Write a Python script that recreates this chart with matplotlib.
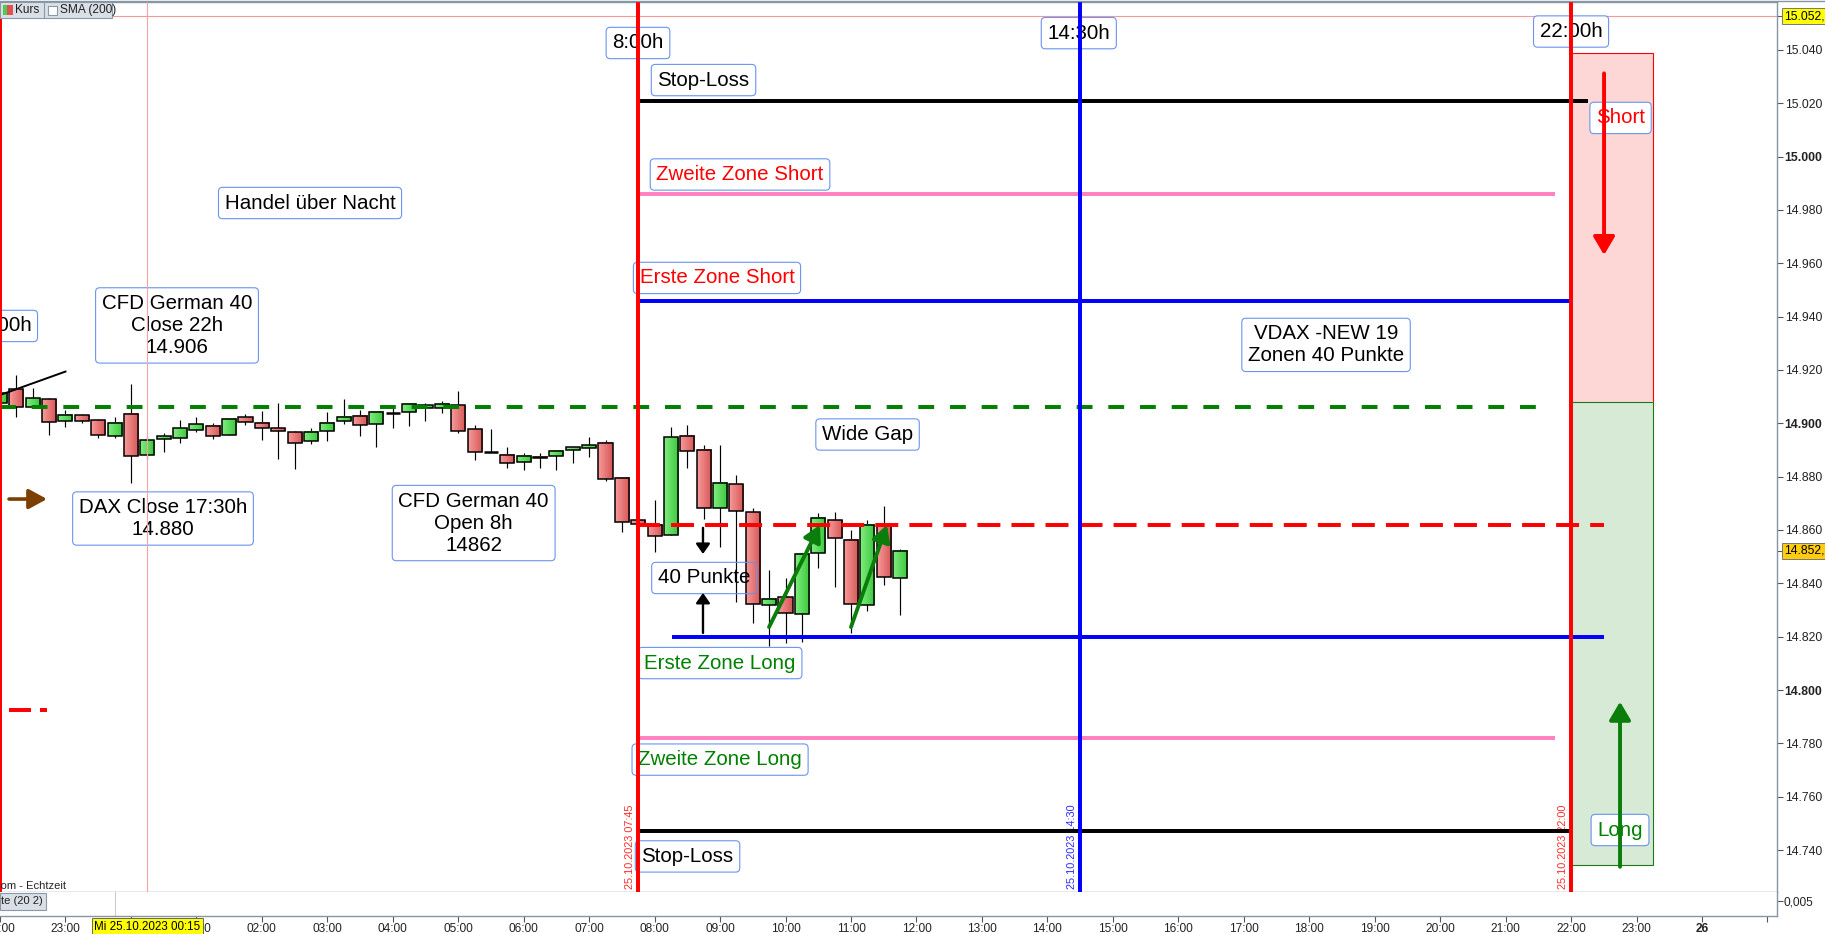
import matplotlib
matplotlib.use('Agg')
import matplotlib.pyplot as plt
from matplotlib.patches import Rectangle
from matplotlib.lines import Line2D
from matplotlib.colors import LinearSegmentedColormap
import numpy as np

plt.rcParams['font.family'] = ['Liberation Sans', 'DejaVu Sans']

# ---------------- data ----------------
# 15-minute candles; time axis in hours relative to 25.10.2023 00:00
first_bar = -2.0          # 24.10.2023 22:00
bar_minutes = 15
opens = [14907.5, 14912.7, 14906.2, 14909.0, 14900.7, 14903.0, 14901.1, 14895.1,
         14903.5, 14888.0, 14894.2, 14894.4, 14897.4, 14898.9, 14895.5, 14902.2,
         14900.0, 14898.1, 14896.6, 14893.2, 14897.0, 14900.7, 14902.6, 14899.6,
         14903.8, 14904.1, 14905.6, 14905.6, 14906.7, 14897.7, 14889.4, 14888.2,
         14885.4, 14887.5, 14887.6, 14889.9, 14890.6, 14892.5, 14879.4, 14863.6,
         14861.9, 14858.0, 14895.2, 14889.9, 14868.1, 14877.1, 14866.6, 14831.9,
         14834.7, 14828.4, 14851.2, 14863.6, 14856.1, 14831.7, 14861.8, 14841.9]
highs = [14912.0, 14918.1, 14913.1, 14909.4, 14905.0, 14903.5, 14901.5, 14902.2,
         14914.7, 14895.2, 14896.2, 14901.2, 14902.2, 14900.2, 14901.5, 14903.5,
         14904.6, 14907.7, 14897.1, 14898.1, 14904.3, 14909.0, 14905.0, 14904.6,
         14905.6, 14907.7, 14907.5, 14908.4, 14912.1, 14899.2, 14897.7, 14891.0,
         14889.0, 14889.0, 14890.0, 14891.0, 14894.7, 14893.7, 14879.4, 14863.6,
         14871.2, 14898.5, 14899.4, 14891.7, 14891.7, 14880.6, 14868.1, 14845.0,
         14842.0, 14850.9, 14866.2, 14866.6, 14860.0, 14863.7, 14869.1, 14852.8]
lows = [14906.0, 14902.5, 14906.0, 14895.6, 14898.7, 14900.2, 14894.6, 14894.6,
        14877.5, 14886.7, 14889.4, 14892.5, 14896.9, 14894.2, 14895.5, 14899.2,
        14893.7, 14886.5, 14883.0, 14892.1, 14893.2, 14899.6, 14895.4, 14891.0,
        14898.1, 14899.1, 14901.0, 14904.0, 14896.5, 14886.1, 14889.4, 14883.1,
        14882.4, 14883.1, 14882.4, 14885.0, 14887.5, 14878.5, 14859.4, 14862.2,
        14851.9, 14858.0, 14883.4, 14864.0, 14853.7, 14832.9, 14825.0, 14816.5,
        14817.7, 14818.0, 14845.6, 14838.7, 14821.4, 14829.7, 14839.4, 14828.1]
closes = [14911.2, 14906.2, 14909.4, 14900.4, 14903.0, 14901.0, 14895.5, 14900.0,
          14887.6, 14893.6, 14895.1, 14898.1, 14899.6, 14895.1, 14901.5, 14900.4,
          14898.1, 14897.0, 14892.5, 14896.6, 14900.0, 14902.2, 14899.2, 14904.1,
          14903.8, 14907.1, 14906.7, 14907.1, 14897.0, 14889.1, 14889.4, 14885.0,
          14887.9, 14886.9, 14889.5, 14891.0, 14891.7, 14879.0, 14862.9, 14862.2,
          14857.6, 14894.7, 14889.5, 14868.1, 14877.5, 14867.0, 14832.2, 14834.2,
          14828.9, 14850.9, 14864.4, 14856.9, 14832.1, 14861.7, 14842.3, 14852.2]

# price levels of the drawn zones
stop_loss_high = 15021
zone2_short = 14986
zone1_short = 14946
cfd_close_22h = 14906
cfd_open_8h = 14862
zone1_long = 14820
zone2_long = 14782
stop_loss_low = 14747
short_zone = (14907.5, 15039.0)
long_zone = (14734.4, 14908.0)
session_high = 15052.6
last_price = 14852.2

# vertical time markers (hours)
marker_prev_close = -2.0
marker_cursor = 0.25
marker_open = 7.75
marker_us = 14.5
marker_close = 22.0

y_ticks = [14740, 14760, 14780, 14800, 14820, 14840, 14860, 14880, 14900,
           14920, 14940, 14960, 14980, 15000, 15020, 15040]
x_hours = list(range(-2, 26))
x_labels = ['22:00', '23:00', '00:00', '01:00', '02:00', '03:00', '04:00', '05:00',
            '06:00', '07:00', '08:00', '09:00', '10:00', '11:00', '12:00', '13:00',
            '14:00', '15:00', '16:00', '17:00', '18:00', '19:00', '20:00', '21:00',
            '22:00', '23:00', '26', '']

# ---------------- figure ----------------
W, H = 1825, 934
fig = plt.figure(figsize=(W / 100, H / 100), dpi=100)


def fx(px):
    return px / W


def fy(py):
    return 1 - py / H


ax = fig.add_axes([0, fy(892), fx(1777), (892 - 2) / H])
sub = fig.add_axes([0, fy(916), fx(1777), 24 / H])

X0, X1 = -2.0, 25.146
Y0, Y1 = 14724.26, 15057.97

RED = '#ff0000'
GREEN = '#008000'
BLUE = '#0000ff'
PINK = '#ff82c0'
BOXEC = '#6b94ee'
LW = 2.85

# shaded short / long zones
ax.add_patch(Rectangle((22.0, short_zone[0]), 1.25, short_zone[1] - short_zone[0],
                       fc='#fdd6d6', ec='#ff0000', lw=0.8, zorder=1))
ax.add_patch(Rectangle((22.0, long_zone[0]), 1.25, long_zone[1] - long_zone[0],
                       fc='#d6ead6', ec='#1a7a1a', lw=0.8, zorder=1))

# candles
times = first_bar + np.arange(len(opens)) * bar_minutes / 60.0
red_cmap = LinearSegmentedColormap.from_list('rc', ['#f89a9a', '#d65656'])
green_cmap = LinearSegmentedColormap.from_list('gc', ['#80ee80', '#3cc73c'])
grad = np.linspace(0, 1, 32).reshape(1, -1)
bw = 0.215
for t, o, h, l, c in zip(times, opens, highs, lows, closes):
    ax.plot([t, t], [l, h], color='black', lw=0.85, zorder=3, solid_capstyle='butt')
    lo, hi = min(o, c), max(o, c)
    if hi - lo < 0.3:
        ax.plot([t - bw / 2, t + bw / 2], [o, o], color='black', lw=1.8, zorder=4,
                solid_capstyle='butt')
    else:
        cmap = green_cmap if c > o else red_cmap
        ax.imshow(grad, cmap=cmap, extent=[t - bw / 2, t + bw / 2, lo, hi],
                  aspect='auto', zorder=4, interpolation='bilinear')
        ax.add_patch(Rectangle((t - bw / 2, lo), bw, hi - lo, fill=False, ec='black',
                               lw=1.1, zorder=4.1))

# vertical date labels
ax.text(7.624, 14725.5, '25.10.2023 07:45', rotation=90, color='#ff2a2a', fontsize=7.8,
        ha='center', va='bottom', zorder=4.5)
ax.text(14.376, 14725.5, '25.10.2023 14:30', rotation=90, color='#2a2aff', fontsize=7.8,
        ha='center', va='bottom', zorder=4.5)
ax.text(21.877, 14725.5, '25.10.2023 22:00', rotation=90, color='#ff2a2a', fontsize=7.8,
        ha='center', va='bottom', zorder=4.5)

# horizontal levels
ax.plot([7.746, 22.26], [stop_loss_high] * 2, color='black', lw=LW, zorder=5, solid_capstyle='butt')
ax.plot([7.77, 21.755], [zone2_short] * 2, color=PINK, lw=LW, zorder=5, solid_capstyle='butt')
ax.plot([7.746, 22.0], [zone1_short] * 2, color=BLUE, lw=LW, zorder=5, solid_capstyle='butt')
ax.plot([-2.0, 21.495], [cfd_close_22h] * 2, color=GREEN, lw=LW, zorder=5,
        linestyle=(0, (4, 4)), dash_capstyle='butt')
ax.plot([7.73, 22.5], [cfd_open_8h] * 2, color=RED, lw=LW, zorder=5,
        linestyle=(0, (5.8, 2.8)), dash_capstyle='butt')
ax.plot([8.266, 22.5], [zone1_long] * 2, color=BLUE, lw=LW, zorder=5, solid_capstyle='butt')
ax.plot([7.746, 21.755], [zone2_long] * 2, color=PINK, lw=LW, zorder=5, solid_capstyle='butt')
ax.plot([7.746, 22.0], [stop_loss_low] * 2, color='black', lw=LW, zorder=5, solid_capstyle='butt')
ax.axhline(session_high, color='#f39a9a', lw=0.8, zorder=2)

# small drawings at the left
ax.plot([-2.0, -1.0], [14910.6, 14919.4], color='black', lw=1.4, zorder=6)
ax.plot([-1.863, -1.526], [14792.5] * 2, color=RED, lw=LW, zorder=5, solid_capstyle='butt')
ax.plot([-1.389, -1.282], [14792.5] * 2, color=RED, lw=LW, zorder=5, solid_capstyle='butt')

# text boxes
boxes = [
    ("8:00h", 7.746, 15042.6, 'black'),
    ("14:30h", 14.48, 15046.3, 'black'),
    ("22:00h", 22.0, 15046.9, 'black'),
    ("22:00h", -2.0, 14936.5, 'black'),
    ("Stop-Loss", 8.747, 15028.7, 'black'),
    ("Zweite Zone Short", 9.305, 14993.3, RED),
    ("Erste Zone Short", 8.953, 14954.5, RED),
    ("Handel über Nacht", 2.736, 14982.6, 'black'),
    ("CFD German 40\nClose 22h\n14.906", 0.704, 14936.7, 'black'),
    ("DAX Close 17:30h\n14.880", 0.49, 14864.3, 'black'),
    ("CFD German 40\nOpen 8h\n14862", 5.236, 14862.6, 'black'),
    ("VDAX -NEW 19\nZonen 40 Punkte", 18.257, 14929.4, 'black'),
    ("Wide Gap", 11.253, 14895.8, 'black'),
    ("Erste Zone Long", 9.0, 14810.1, GREEN),
    ("Zweite Zone Long", 9.0, 14773.9, GREEN),
    ("Stop-Loss", 8.503, 14737.6, 'black'),
    ("Short", 22.756, 15014.5, RED),
    ("Long", 22.748, 14747.5, GREEN),
]
for txt, x, y, col in boxes:
    ax.text(x, y, txt, color=col, fontsize=14.8, ha='center', va='center',
            multialignment='center', zorder=6, clip_on=True,
            bbox=dict(boxstyle='round,pad=0.3,rounding_size=0.2', fc='white',
                      ec=BOXEC, lw=0.8))
ax.text(8.755, 14842.0, "40 Punkte", color='black', fontsize=14.8, ha='center',
        va='center', zorder=6,
        bbox=dict(boxstyle='round,pad=0.3,rounding_size=0.2', fc='none', ec=BOXEC, lw=0.8))

# vertical lines (above boxes)
ax.axvline(marker_prev_close, color=RED, lw=LW, zorder=7)
ax.axvline(marker_cursor, color='#f4a4a4', lw=0.8, zorder=7)
ax.axvline(marker_open, color=RED, lw=LW, zorder=7)
ax.axvline(marker_us, color=BLUE, lw=LW, zorder=7)
ax.axvline(marker_close, color=RED, lw=LW, zorder=7)


def arrow(x0, y0, x1, y1, color, lw, hl, hw):
    ax.annotate('', xy=(x1, y1), xytext=(x0, y0), zorder=8,
                arrowprops=dict(arrowstyle=f'-|>,head_length={hl},head_width={hw}',
                                mutation_scale=10, lw=lw, color=color,
                                shrinkA=0, shrinkB=0))


arrow(22.504, 15031.2, 22.504, 14963.1, RED, 2.8, 1.1, 0.65)
arrow(22.748, 14733.7, 22.748, 14795.6, '#0a7d0a', 2.8, 1.1, 0.65)
arrow(9.748, 14823.6, 10.527, 14861.9, '#0a7d0a', 2.8, 1.0, 0.55)
arrow(11.0, 14823.6, 11.55, 14861.9, '#0a7d0a', 2.8, 1.0, 0.55)
arrow(8.739, 14860.8, 8.739, 14851.0, 'black', 1.7, 0.6, 0.42)
arrow(8.739, 14821.4, 8.739, 14836.4, 'black', 1.7, 0.6, 0.42)
arrow(-1.862, 14871.6, -1.282, 14871.6, '#7b3f00', 2.6, 1.1, 0.6)

# axes styling (main)
ax.set_xlim(X0, X1)
ax.set_ylim(Y0, Y1)
ax.set_xticks([])
ax.yaxis.tick_right()
ax.set_yticks(y_ticks + [last_price, session_high])
ylabels = []
for v in y_ticks:
    s = f'{v:,}'.replace(',', '.')
    ylabels.append(s)
ylabels += ['', '']
ax.set_yticklabels(ylabels)
for lab, v in zip(ax.get_yticklabels(), y_ticks):
    if v % 100 == 0:
        lab.set_fontweight('bold')
ax.tick_params(axis='y', direction='out', length=4, width=0.8, color='#555555',
               labelsize=8.8, pad=1.5, labelcolor='#222222')
for side in ['left']:
    ax.spines[side].set_visible(False)
for side in ['top', 'right', 'bottom']:
    ax.spines[side].set_color('#8796a5')
    ax.spines[side].set_linewidth(1.0)

ytr = ax.get_yaxis_transform()
ax.text(1.0038, session_high, '15.052,6', transform=ytr, fontsize=8.8, ha='left',
        va='center', clip_on=False, zorder=10,
        bbox=dict(boxstyle='square,pad=0.15', fc='#ffff00', ec='#777777', lw=0.7))
ax.text(1.0038, last_price, '14.852,2', transform=ytr, fontsize=8.8, ha='left',
        va='center', clip_on=False, zorder=10,
        bbox=dict(boxstyle='square,pad=0.15', fc='#ffcc10', ec='#777777', lw=0.7))

# sub panel
sub.set_xlim(X0, X1)
sub.set_ylim(0, 1)
sub.yaxis.tick_right()
sub.set_yticks([0.625])
sub.set_yticklabels(['0,005'])
sub.set_xticks(x_hours)
sub.set_xticklabels(x_labels)
for lab, txt in zip(sub.get_xticklabels(), x_labels):
    if txt == '26':
        lab.set_fontweight('bold')
        lab.set_fontsize(10)
sub.tick_params(axis='both', direction='out', length=4, width=0.8, color='#555555',
                labelsize=8.6, pad=1.0, labelcolor='#222222')
sub.spines['left'].set_visible(False)
sub.spines['top'].set_visible(False)
for side in ['right', 'bottom']:
    sub.spines[side].set_color('#8796a5')
    sub.spines[side].set_linewidth(1.0)
sub.axvline(-0.243, color='#c8c8c8', lw=0.7)

# figure-level decorations
fig.add_artist(Line2D([0, 1], [fy(1.2)] * 2, color='#8796a5', lw=1.0))
# legend box top-left
fig.add_artist(Rectangle((0, fy(18)), fx(112), 16 / H, fc='#d8dfe7', ec='#8a98a8', lw=0.8))
fig.add_artist(Line2D([fx(44)] * 2, [fy(18), fy(2)], color='#8a98a8', lw=0.8))
fig.add_artist(Rectangle((fx(2.5), fy(15)), fx(5), 10 / H, fc='#4fc94f', ec='none'))
fig.add_artist(Rectangle((fx(7.5), fy(15)), fx(5), 10 / H, fc='#e25050', ec='none'))
fig.text(fx(15), fy(10), 'Kurs', fontsize=8.6, ha='left', va='center', color='#222222')
fig.add_artist(Rectangle((fx(48), fy(15)), fx(9), 9 / H, fc='white', ec='#8a98a8', lw=0.8))
fig.text(fx(60), fy(10), 'SMA (200)', fontsize=8.6, ha='left', va='center', color='#222222')

fig.text(fx(66), fy(886), 'com - Echtzeit', fontsize=8.0, ha='right', va='center',
         color='#222222')
fig.add_artist(Rectangle((0, fy(910)), fx(46), 17 / H, fc='#d8dfe7', ec='#8a98a8', lw=0.8))
fig.text(fx(43), fy(901.5), 'te (20 2)', fontsize=8.0, ha='right', va='center',
         color='#222222')
fig.text(fx(147.5), fy(926.5), 'Mi 25.10.2023 00:15', fontsize=8.4, ha='center',
         va='center', color='black',
         bbox=dict(boxstyle='square,pad=0.2', fc='#ffff00', ec='#666666', lw=0.7))

fig.savefig('out.png', dpi=100, facecolor='white')
